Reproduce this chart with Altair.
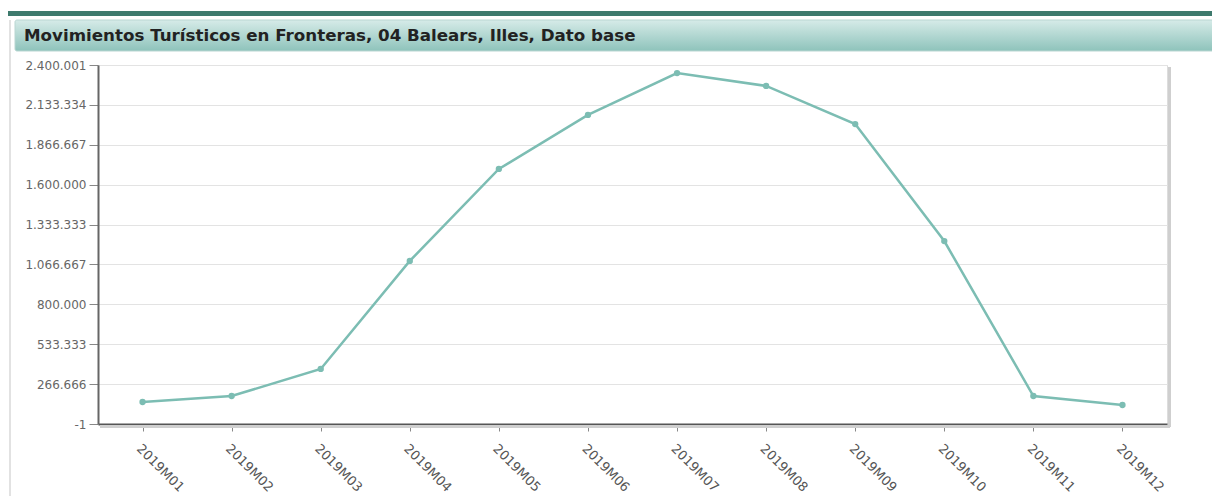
import altair as alt
import pandas as pd

months = ["2019M01", "2019M02", "2019M03", "2019M04", "2019M05", "2019M06",
          "2019M07", "2019M08", "2019M09", "2019M10", "2019M11", "2019M12"]
values = [147000, 187000, 368000, 1090000, 1705000, 2066000,
          2346000, 2260000, 2005000, 1223000, 187000, 127000]
y_ticks = [-1, 266666, 533333, 800000, 1066667, 1333333, 1600000, 1866667, 2133334, 2400001]
title_text = "Movimientos Turísticos en Fronteras, 04 Balears, Illes, Dato base"

df = pd.DataFrame({"periodo": months, "valor": values})

W, H = 1069, 359
LINE = "#7cbdb3"

x_enc = alt.X("periodo:N", sort=months, title=None,
              scale=alt.Scale(paddingInner=0, paddingOuter=0.5),
              axis=alt.Axis(labelAngle=45, labelAlign="left", labelBaseline="top",
                            labelFont="DejaVu Sans", labelFontSize=13, labelColor="#555",
                            labelPadding=11, labelOverlap=False,
                            domainColor="#555", domainWidth=2,
                            tickColor="#888", tickSize=7, grid=False))
y_enc = alt.Y("valor:Q", title=None,
              scale=alt.Scale(domain=[-1, 2400001], nice=False, zero=False),
              axis=alt.Axis(values=y_ticks, labelFont="DejaVu Sans", labelFontSize=12,
                            labelColor="#666", labelPadding=3,
                            labelExpr="replace(replace(format(datum.value, ','), regexp(',', 'g'), '.'), '\u2212', '-')",
                            domainColor="#666", domainWidth=2, tickColor="#888", tickSize=9,
                            gridColor="#e3e3e3", gridWidth=1))

line = alt.Chart(df).mark_line(color=LINE, strokeWidth=2.5).encode(x=x_enc, y=y_enc)
pts = alt.Chart(df).mark_point(color=LINE, filled=True, size=40, opacity=1).encode(x=x_enc, y=y_enc)

deco_df = pd.DataFrame({"t": [title_text]})
dark_bar = alt.Chart(deco_df).mark_rect(color="#3e7a6d").encode(
    x=alt.value(-91), x2=alt.value(1130), y=alt.value(-54), y2=alt.value(-49))
banner = alt.Chart(deco_df).mark_rect(
    color=alt.Gradient(gradient="linear", x1=0, y1=0, x2=0, y2=1,
                       stops=[alt.GradientStop(color="#d6ebe8", offset=0),
                              alt.GradientStop(color="#8ec3bb", offset=1)]),
    stroke="#b9d6d2", strokeWidth=1, cornerRadius=2).encode(
    x=alt.value(-83), x2=alt.value(1130), y=alt.value(-45), y2=alt.value(-14))
left_line = alt.Chart(deco_df).mark_rule(color="#d8d8d8", strokeWidth=1.5).encode(
    x=alt.value(-88), y=alt.value(-45), y2=alt.value(440))
shadow_r = alt.Chart(deco_df).mark_rule(color="#cfcfcf", strokeWidth=3).encode(
    x=alt.value(W + 2.5), y=alt.value(2), y2=alt.value(H + 3))
shadow_b = alt.Chart(deco_df).mark_rule(color="#cfcfcf", strokeWidth=3).encode(
    x=alt.value(2), x2=alt.value(W + 3), y=alt.value(H + 2.5))
title = alt.Chart(deco_df).mark_text(align="left", baseline="middle", font="DejaVu Sans",
                                     fontSize=16.7, fontWeight="bold", color="#222").encode(
    x=alt.value(-74), y=alt.value(-29), text="t:N")

chart = alt.layer(dark_bar, banner, left_line, shadow_r, shadow_b, title, line, pts).properties(
    width=W, height=H,
    autosize=alt.AutoSizeParams(type="none"),
    padding={"left": 90, "top": 57, "right": 45, "bottom": 72},
).configure_view(stroke="#999", strokeWidth=2).configure(background="white")

chart.save("out.html", embed_options={"renderer": "svg", "actions": False})
